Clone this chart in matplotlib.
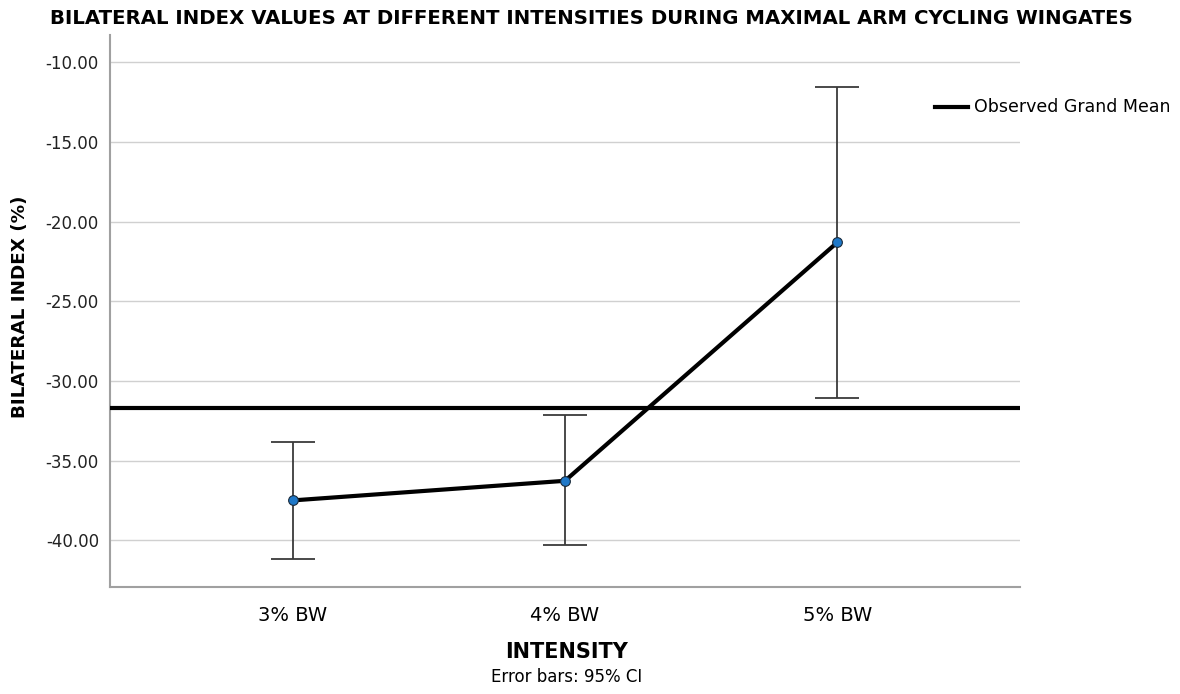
# Bilateral index means with 95% CI at three arm cycling Wingate intensities
import matplotlib.pyplot as plt

categories = ["3% BW", "4% BW", "5% BW"]
means = [-37.49, -36.26, -21.30]
ci_upper = [-33.81, -32.15, -11.55]
ci_lower = [-41.19, -40.29, -31.08]
grand_mean = -31.68
y_ticks = [-10, -15, -20, -25, -30, -35, -40]

plt.rcParams["font.family"] = ["DejaVu Sans"]

fig = plt.figure(figsize=(11.8, 6.94), dpi=100)
ax = fig.add_axes([110 / 1180, 1 - 587 / 694, 910 / 1180, 552 / 694])

x = list(range(len(categories)))
err_low = [m - lo for m, lo in zip(means, ci_lower)]
err_high = [hi - m for m, hi in zip(means, ci_upper)]

# Error bars first, then the mean line with markers
ax.errorbar(x, means, yerr=[err_low, err_high], fmt="none", ecolor="#3a3a3a",
            elinewidth=1.3, capsize=16, capthick=1.3, zorder=3)
ax.plot(x, means, color="black", linewidth=3.0, zorder=4)
ax.plot(x, means, linestyle="none", marker="o", markersize=7,
        markerfacecolor="#1f78c8", markeredgecolor="#1a2a3a",
        markeredgewidth=0.8, zorder=5)

# Observed grand mean reference line
ax.axhline(grand_mean, color="black", linewidth=3.0, zorder=4)

ax.set_xlim(-0.67, 2.67)
ax.set_ylim(-42.92, -8.3)
ax.set_xticks(x)
ax.set_xticklabels(categories, fontsize=14)
ax.set_yticks(y_ticks)
ax.set_yticklabels([f"{v:.2f}" for v in y_ticks], fontsize=12, color="#222222")
ax.tick_params(axis="both", length=0)
ax.tick_params(axis="x", pad=14)
ax.tick_params(axis="y", pad=8)

ax.grid(axis="y", color="#d0d0d0", linewidth=1.0, zorder=0)
ax.set_axisbelow(True)
for side in ["top", "right"]:
    ax.spines[side].set_visible(False)
for side in ["left", "bottom"]:
    ax.spines[side].set_color("#a0a0a0")
    ax.spines[side].set_linewidth(1.5)

fig.text(591 / 1180, 1 - 18 / 694,
         "BILATERAL INDEX VALUES AT DIFFERENT INTENSITIES DURING MAXIMAL ARM CYCLING WINGATES",
         ha="center", va="center", fontsize=14.2, fontweight="bold")
fig.text(20 / 1180, 1 - 307 / 694, "BILATERAL INDEX (%)", rotation=90,
         ha="center", va="center", fontsize=13.2, fontweight="bold")
fig.text(567 / 1180, 1 - 652 / 694, "INTENSITY", ha="center", va="center",
         fontsize=15, fontweight="bold")
fig.text(567 / 1180, 1 - 677 / 694, "Error bars: 95% CI", ha="center",
         va="center", fontsize=12)

# Legend drawn by hand to sit outside the plot area
fig.add_artist(plt.Line2D([935 / 1180, 968 / 1180], [1 - 107 / 694, 1 - 107 / 694],
                          color="black", linewidth=3.0))
fig.text(974 / 1180, 1 - 107 / 694, "Observed Grand Mean", ha="left",
         va="center", fontsize=12.5)

fig.savefig("out.png", dpi=100)
